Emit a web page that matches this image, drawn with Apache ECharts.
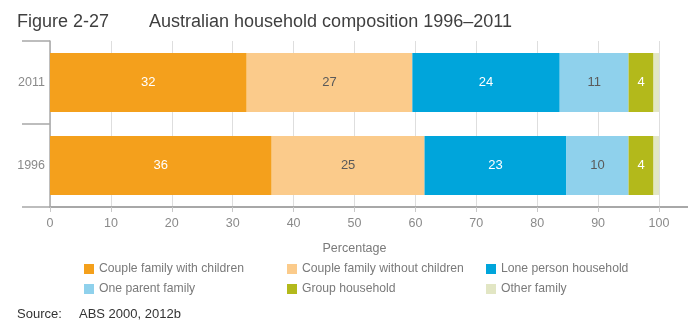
<!DOCTYPE html>
<html>
<head>
<meta charset="utf-8">
<script src="https://cdn.jsdelivr.net/npm/echarts@6/dist/echarts.min.js"></script>
<style>
html,body{margin:0;padding:0;background:#fff;}
#chart{width:700px;height:325px;}
</style>
</head>
<body>
<div id="chart"></div>
<script>
var categories = ['1996', '2011'];
var seriesNames = ['Couple family with children', 'Couple family without children', 'Lone person household', 'One parent family', 'Group household', 'Other family'];
var coupleWithChildren = [36.4, 32.3];
var coupleWithoutChildren = [25.1, 27.2];
var lonePerson = [23.3, 24.2];
var oneParent = [10.2, 11.3];
var groupHousehold = [4.1, 4.1];
var otherFamily = [0.9, 0.9];
var xTicks = [0, 10, 20, 30, 40, 50, 60, 70, 80, 90, 100];

var colors = ['#F4A01C', '#FBCB8B', '#00A5DB', '#8FD1EC', '#B3B91B', '#E2E6C4'];
var labelColors = ['#ffffff', '#5a5a5a', '#ffffff', '#5a5a5a', '#ffffff', null];
var values = [coupleWithChildren, coupleWithoutChildren, lonePerson, oneParent, groupHousehold, otherFamily];
var FONT = '"Liberation Sans", Arial, sans-serif';

var chart = echarts.init(document.getElementById('chart'), null, {renderer: 'canvas'});

var series = seriesNames.map(function (name, i) {
  return {
    name: name,
    type: 'bar',
    stack: 'total',
    data: values[i],
    barWidth: '71%',
    itemStyle: {color: colors[i]},
    label: {
      show: labelColors[i] !== null,
      position: 'inside',
      color: labelColors[i] || '#fff',
      fontFamily: FONT,
      fontSize: 13,
      formatter: function (p) { return Math.round(p.value); }
    },
    emphasis: {disabled: true}
  };
});

function legendCol(left, names) {
  return {
    orient: 'vertical',
    left: left,
    top: 263,
    padding: 0,
    itemWidth: 10,
    itemHeight: 10,
    itemGap: 8,
    icon: 'rect',
    data: names,
    textStyle: {fontFamily: FONT, fontSize: 12.2, color: '#7a7a7a'},
    selectedMode: false
  };
}

chart.setOption({
  animation: false,
  textStyle: {fontFamily: FONT},
  grid: {left: 50, right: 41, top: 41, bottom: 118},
  title: [
    {text: 'Figure 2-27', left: 12, top: 8, textStyle: {fontFamily: FONT, fontSize: 18, fontWeight: 'normal', color: '#3f3f3f'}},
    {text: 'Australian household composition 1996–2011', left: 144, top: 8, textStyle: {fontFamily: FONT, fontSize: 18, fontWeight: 'normal', color: '#3f3f3f'}},
    {text: 'Source:', left: 12, top: 303, textStyle: {fontFamily: FONT, fontSize: 13, fontWeight: 'normal', color: '#333'}},
    {text: 'ABS 2000, 2012b', left: 74, top: 303, textStyle: {fontFamily: FONT, fontSize: 13, fontWeight: 'normal', color: '#333'}}
  ],
  legend: [
    legendCol(84, [seriesNames[0], seriesNames[3]]),
    legendCol(287, [seriesNames[1], seriesNames[4]]),
    legendCol(486, [seriesNames[2], seriesNames[5]])
  ],
  xAxis: {
    type: 'value',
    min: xTicks[0],
    max: xTicks[xTicks.length - 1],
    interval: 10,
    name: 'Percentage',
    nameLocation: 'middle',
    nameGap: 35,
    nameTextStyle: {fontFamily: FONT, fontSize: 12.5, color: '#7a7a7a'},
    axisLine: {show: true, lineStyle: {color: '#a8a8a8', width: 2}},
    axisTick: {show: true, length: 5, lineStyle: {color: '#c8c8c8'}},
    axisLabel: {margin: 10, fontFamily: FONT, fontSize: 12.5, color: '#8a8a8a'},
    splitLine: {show: true, lineStyle: {color: '#dedede', width: 1}}
  },
  yAxis: {
    type: 'category',
    data: categories,
    axisLine: {show: true, lineStyle: {color: '#a8a8a8', width: 1.5}},
    axisTick: {show: true, length: 28, lineStyle: {color: '#a8a8a8', width: 1.5}},
    axisLabel: {margin: 5, fontFamily: FONT, fontSize: 12.5, color: '#8a8a8a'},
    splitLine: {show: false}
  },
  graphic: [
    {type: 'line', shape: {x1: 659, y1: 207, x2: 688, y2: 207}, style: {stroke: '#a8a8a8', lineWidth: 2}, silent: true}
  ],
  series: series
});
</script>
</body>
</html>
